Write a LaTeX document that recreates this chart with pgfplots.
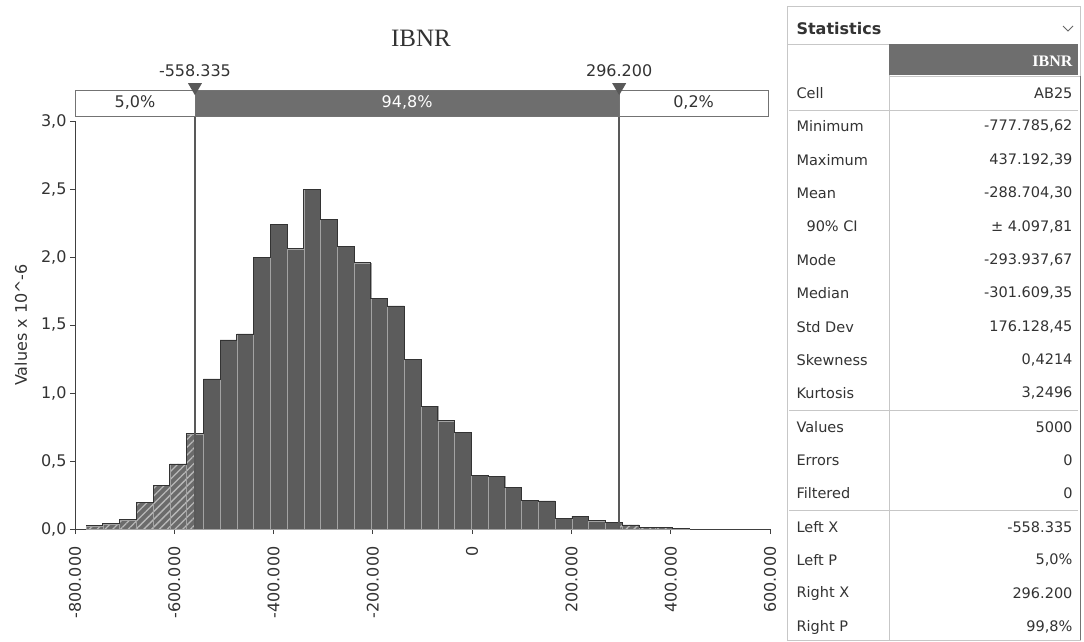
\documentclass[border=0pt]{standalone}
\usepackage{pgfplots}
\pgfplotsset{compat=1.18}
\usepackage{pgfplotstable}
\usepackage{fontspec}
\setmainfont{DejaVu Sans}
\newfontfamily\seriffont{Liberation Serif}
\usetikzlibrary{patterns.meta}

\definecolor{bar}{gray}{0.36}
\definecolor{barsep}{gray}{0.64}
\definecolor{band}{gray}{0.43}
\definecolor{ink}{gray}{0.2}
\definecolor{rule}{gray}{0.78}

% IBNR, 36 bins from min to max, density x 10^-6
\pgfplotstableread{
x y
-777786 0.024
-744036 0.039
-710287 0.068
-676538 0.196
-642788 0.320
-609039 0.478
-575290 0.700
-541540 1.103
-507791 1.390
-474041 1.434
-440292 1.998
-406543 2.240
-372793 2.060
-339044 2.498
-305295 2.277
-271545 2.076
-237796 1.958
-204046 1.696
-170297 1.640
-136548 1.248
-102798 0.900
-69049 0.796
-35300 0.711
-1550 0.397
32199 0.385
65949 0.304
99698 0.210
133447 0.206
167197 0.080
200946 0.095
234696 0.060
268445 0.047
302194 0.030
335944 0.012
369693 0.014
403443 0.005
437192 0
}\bins

% left of -558.335 (hatched)
\pgfplotstableread{
x y
-777786 0.024
-744036 0.039
-710287 0.068
-676538 0.196
-642788 0.320
-609039 0.478
-575290 0.700
-558335 0
}\lefttail

% between the two delimiters
\pgfplotstableread{
x y
-558335 0.700
-541540 1.103
-507791 1.390
-474041 1.434
-440292 1.998
-406543 2.240
-372793 2.060
-339044 2.498
-305295 2.277
-271545 2.076
-237796 1.958
-204046 1.696
-170297 1.640
-136548 1.248
-102798 0.900
-69049 0.796
-35300 0.711
-1550 0.397
32199 0.385
65949 0.304
99698 0.210
133447 0.206
167197 0.080
200946 0.095
234696 0.060
268445 0.047
296200 0
}\middle

% right of 296.200 (hatched)
\pgfplotstableread{
x y
296200 0.047
302194 0.030
335944 0.012
369693 0.014
403443 0.005
437192 0
}\righttail

\newcommand\lab{\fontsize{16}{16}\selectfont}
\newcommand\stat{\fontsize{14.5}{15}\selectfont}

\tikzset{hatched/.style={fill=black!58, draw=barsep,
    postaction={pattern={Lines[angle=45, distance=5.5pt, line width=1.3pt]}, pattern color=white!72!black}}}

\begin{document}
\begin{tikzpicture}
\path[use as bounding box] (0pt,0pt) rectangle (1084pt,-642pt);
\fill[white] (0pt,0pt) rectangle (1084pt,-642pt);

\node[font=\seriffont\fontsize{25}{25}\selectfont, text=ink] at (421pt,-38pt) {IBNR};

\begin{axis}[
    at={(75pt,-529pt)}, anchor=south west,
    scale only axis, width=695pt, height=408pt,
    xmin=-800000, xmax=600000, ymin=0, ymax=3,
    axis x line*=bottom, axis y line*=left,
    axis line style={-, draw=black!75, line width=0.9pt},
    tick align=outside, major tick length=5pt,
    tick style={black!75, line width=0.8pt},
    xtick={-800000,-600000,-400000,-200000,0,200000,400000,600000},
    xticklabels={-800.000,-600.000,-400.000,-200.000,0,200.000,400.000,600.000},
    scaled x ticks=false,
    ytick={0,0.5,1,1.5,2,2.5,3},
    yticklabels={{0,0},{0,5},{1,0},{1,5},{2,0},{2,5},{3,0}},
    tick label style={font=\lab, text=ink},
    x tick label style={rotate=90, anchor=east},
    xticklabel shift=9pt,
    ylabel={Values x 10\textasciicircum-6},
    every axis y label/.style={at={(axis description cs:-0.0777,0.5)}, rotate=90, anchor=center, font=\lab, text=ink},
    clip=false,
]
\addplot[ybar interval, hatched] table {\lefttail};
\addplot[ybar interval, fill=bar, draw=barsep] table {\middle};
\addplot[ybar interval, hatched] table {\righttail};
\addplot[const plot, draw=black!80, line width=0.8pt, mark=none] table {\bins};

% delimiters
\draw[black!65, line width=1.4pt] (axis cs:-558335,0) -- (axis cs:-558335,3.037);
\draw[black!65, line width=1.4pt] (axis cs:296200,0) -- (axis cs:296200,3.037);

% probability band
\draw[black!55, fill=white] (axis cs:-800000,3.037) rectangle (axis cs:-558335,3.228);
\draw[black!55, fill=band] (axis cs:-558335,3.037) rectangle (axis cs:296200,3.228);
\draw[black!55, fill=white] (axis cs:296200,3.037) rectangle (axis cs:596000,3.228);
\node[font=\lab, text=ink] at (axis cs:-679168,3.133) {5,0\%};
\node[font=\lab, text=white] at (axis cs:-131068,3.133) {94,8\%};
\node[font=\lab, text=ink] at (axis cs:446100,3.133) {0,2\%};

\fill[black!65] (axis cs:-558335,3.19) -- +(-7pt,12pt) -- +(7pt,12pt) -- cycle;
\fill[black!65] (axis cs:296200,3.19) -- +(-7pt,12pt) -- +(7pt,12pt) -- cycle;
\node[font=\lab, text=ink] at (axis cs:-558335,3.368) {-558.335};
\node[font=\lab, text=ink] at (axis cs:296200,3.368) {296.200};
\end{axis}

% statistics panel
\draw[rule] (787pt,-6pt) rectangle (1080pt,-640pt);
\node[anchor=west, font=\bfseries\fontsize{16}{16}\selectfont, text=ink] at (793pt,-29pt) {Statistics};
\draw[black!60, line width=0.8pt] (1063pt,-26pt) -- (1068pt,-31pt) -- (1073pt,-26pt);
\draw[rule] (787pt,-44pt) -- (889pt,-44pt);
\fill[band] (889pt,-44pt) rectangle (1078pt,-75pt);
\node[anchor=east, font=\seriffont\bfseries\fontsize{16}{16}\selectfont, text=white] at (1076pt,-61pt) {IBNR};
\draw[rule] (889pt,-75pt) -- (889pt,-640pt);
\draw[rule] (889pt,-76pt) -- (1080pt,-76pt);
\draw[rule] (789pt,-110pt) -- (1078pt,-110pt);
\draw[rule] (789pt,-410pt) -- (1078pt,-410pt);
\draw[rule] (789pt,-510pt) -- (1078pt,-510pt);
\draw[black!55, line width=0.8pt] (1080pt,-76pt) -- (1080pt,-640pt);

\foreach \name/\val [count=\i from 0] in {
    Cell/AB25, Minimum/{-777.785,62}, Maximum/{437.192,39}, Mean/{-288.704,30},
    {\hspace*{10pt}90\% CI}/{± 4.097,81}, Mode/{-293.937,67}, Median/{-301.609,35},
    Std Dev/{176.128,45}, Skewness/{0,4214}, Kurtosis/{3,2496}, Values/5000,
    Errors/0, Filtered/0, Left X/-558.335, Left P/{5,0\%}, Right X/296.200,
    Right P/{99,8\%}} {
  \node[anchor=west, font=\stat, text=ink] at (793pt,{-93pt-33.375pt*\i}) {\name};
  \node[anchor=east, font=\stat, text=ink] at (1076pt,{-93pt-33.375pt*\i}) {\val};
}
\end{tikzpicture}
\end{document}
